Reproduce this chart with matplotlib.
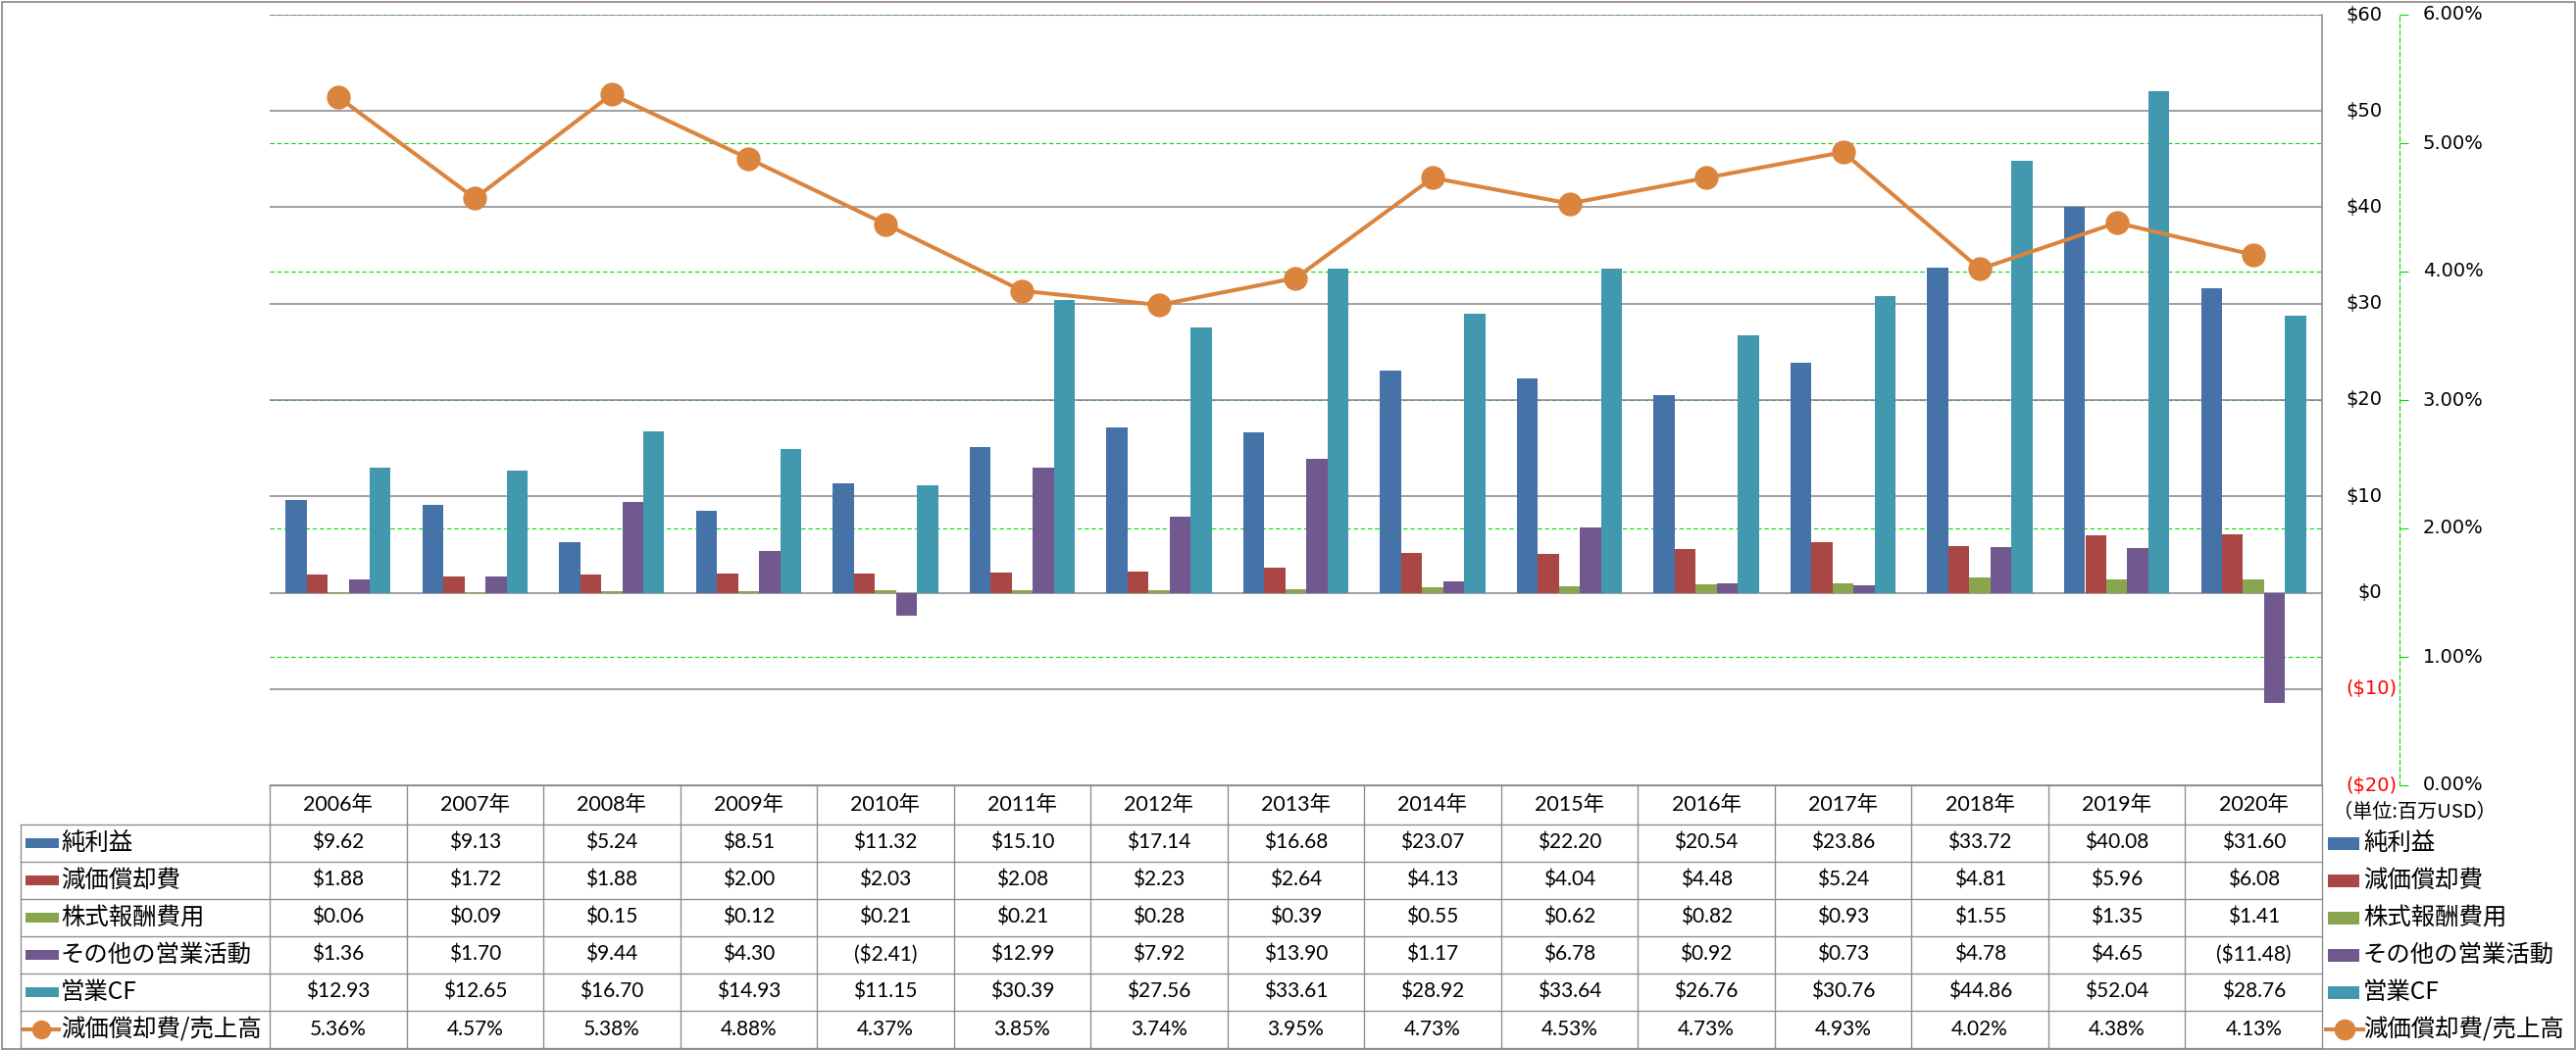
import matplotlib
matplotlib.use("Agg")
import matplotlib.pyplot as plt
from matplotlib.patches import Rectangle
from matplotlib.lines import Line2D
import numpy as np

# ---------------- data ----------------
years = ["2006年", "2007年", "2008年", "2009年", "2010年", "2011年", "2012年", "2013年",
         "2014年", "2015年", "2016年", "2017年", "2018年", "2019年", "2020年"]
series_names = ["純利益", "減価償却費", "株式報酬費用", "その他の営業活動", "営業CF"]
line_name = "減価償却費/売上高"
net_income = [9.62, 9.13, 5.24, 8.51, 11.32, 15.10, 17.14, 16.68, 23.07, 22.20, 20.54, 23.86, 33.72, 40.08, 31.60]
depreciation = [1.88, 1.72, 1.88, 2.00, 2.03, 2.08, 2.23, 2.64, 4.13, 4.04, 4.48, 5.24, 4.81, 5.96, 6.08]
stock_comp = [0.06, 0.09, 0.15, 0.12, 0.21, 0.21, 0.28, 0.39, 0.55, 0.62, 0.82, 0.93, 1.55, 1.35, 1.41]
other_ops = [1.36, 1.70, 9.44, 4.30, -2.41, 12.99, 7.92, 13.90, 1.17, 6.78, 0.92, 0.73, 4.78, 4.65, -11.48]
operating_cf = [12.93, 12.65, 16.70, 14.93, 11.15, 30.39, 27.56, 33.61, 28.92, 33.64, 26.76, 30.76, 44.86, 52.04, 28.76]
dep_ratio = [5.36, 4.57, 5.38, 4.88, 4.37, 3.85, 3.74, 3.95, 4.73, 4.53, 4.73, 4.93, 4.02, 4.38, 4.13]
usd_ticks = [-20, -10, 0, 10, 20, 30, 40, 50, 60]
pct_ticks = [0, 1, 2, 3, 4, 5, 6]
unit_label = "（単位:百万USD）"

# ---------------- style ----------------
colors = ["#4572A7", "#AA4643", "#89A54E", "#71588F", "#4198AF"]
line_color = "#DB843D"
grid_gray = "#868686"
green = "#00DD00"
W, H, DPI = 2627, 1071, 100
PX = 72.0 / DPI  # points per pixel

CJK = ["Noto Sans CJK JP", "DejaVu Sans"]
NUM = ["Lato", "Noto Sans CJK JP", "DejaVu Sans"]

fig = plt.figure(figsize=(W / DPI, H / DPI), dpi=DPI, facecolor="white")

# overlay axes in pixel coordinates (for table, labels + border)
ov = fig.add_axes([0, 0, 1, 1])
ov.set_xlim(0, W)
ov.set_ylim(H, 0)
ov.set_axis_off()

PL, PR, PT, PB = 275, 2368, 15, 801
rect = [PL / W, 1 - PB / H, (PR - PL) / W, (PB - PT) / H]

# green percent gridlines (behind bars)
axg = fig.add_axes(rect, facecolor="none")
axg.set_ylim(0, 6)
axg.set_xlim(-0.5, len(years) - 0.5)
axg.set_yticks(pct_ticks)
axg.set_xticks([])
axg.tick_params(left=False, labelleft=False)
for s in axg.spines.values():
    s.set_visible(False)
axg.grid(axis="y", color=green, lw=0.8, linestyle=(0, (4, 2.5)))

# bars
ax = fig.add_axes(rect, facecolor="none")
x = np.arange(len(years))
n = len(series_names)
bw = 1.0 / (n + 1.5)
all_series = [net_income, depreciation, stock_comp, other_ops, operating_cf]
for i, (vals, c) in enumerate(zip(all_series, colors)):
    ax.bar(x + (i - (n - 1) / 2) * bw, vals, width=bw, color=c, zorder=2)
ax.set_xlim(-0.5, len(years) - 0.5)
ax.set_ylim(-20, 60)
ax.set_xticks([])
ax.set_axisbelow(True)
ax.grid(axis="y", color=grid_gray, lw=1.1)
for k in ["top", "left", "bottom"]:
    ax.spines[k].set_visible(False)
ax.spines["right"].set_color(grid_gray)
ax.spines["right"].set_linewidth(1.1)

# line on secondary axis
ax2 = ax.twinx()
ax2.set_ylim(0, 6)
ax2.plot(x, dep_ratio, color=line_color, lw=2.9, marker="o", ms=16.5,
         mfc=line_color, mec=line_color, solid_joinstyle="round", zorder=5)
ax2.set_yticks(pct_ticks)
for k in ["top", "left", "bottom"]:
    ax2.spines[k].set_visible(False)
ax2.spines["right"].set_position(("outward", (2447 - PR) * PX))
ax2.spines["right"].set_color(green)
ax2.spines["right"].set_linewidth(0.8)
ax2.spines["right"].set_linestyle((0, (4, 2.5)))
ax2.tick_params(axis="y", direction="out", length=9 * PX, width=0.8, color=green,
                labelright=False, labelleft=False)

# primary axis: ticks set on the scale, labels drawn at the pixel column of the reference
ax.set_yticks(usd_ticks)
ax.tick_params(axis="y", left=False, right=False, labelleft=False, labelright=False)


def usd_fmt(v):
    return f"${v}" if v >= 0 else f"(${-v})"


for v in usd_ticks:
    ypix = H - ax.transData.transform((0, v))[1]
    if v >= 0:
        ov.text(2429, ypix, usd_fmt(v), ha="right", va="center", fontsize=14,
                family="DejaVu Sans", color="black")
    else:
        ov.text(2444, ypix, usd_fmt(v), ha="right", va="center", fontsize=14,
                family="DejaVu Sans", color="#FF0000")

for p in pct_ticks:
    ypix = H - ax2.transData.transform((0, p))[1]
    ov.text(2471, ypix, f"{p:.2f}%", ha="left", va="center", fontsize=14,
            family="DejaVu Sans", color="black")

# ---------------- data table ----------------
tcol = "#8C8C8C"
tlw = 0.95
ncol = len(years)
colw = (PR - PL) / ncol
row_edges = [801, 841, 879, 917, 955, 993, 1031, 1069]
TL = 21

# horizontal lines
ov.plot([PL, PR], [row_edges[0], row_edges[0]], color=tcol, lw=tlw)
for yy in row_edges[1:]:
    ov.plot([TL, PR], [yy, yy], color=tcol, lw=tlw)
# vertical lines
ov.plot([TL, TL], [row_edges[1], row_edges[-1]], color=tcol, lw=tlw)
for j in range(ncol + 1):
    xx = PL + j * colw
    ov.plot([xx, xx], [row_edges[0], row_edges[-1]], color=tcol, lw=tlw)


def money(v):
    return f"${v:.2f}" if v >= 0 else f"(${-v:.2f})"


# header
hy = (row_edges[0] + row_edges[1]) / 2
for j, yr in enumerate(years):
    ov.text(PL + (j + 0.5) * colw, hy, yr, ha="center", va="center",
            fontsize=15.5, family=NUM)

row_vals = [[money(v) for v in s] for s in all_series] + [[f"{v:.2f}%" for v in dep_ratio]]
row_names = series_names + [line_name]
row_colors = colors + [line_color]
for r in range(len(row_names)):
    cy = (row_edges[r + 1] + row_edges[r + 2]) / 2
    for j in range(ncol):
        ov.text(PL + (j + 0.5) * colw, cy, row_vals[r][j], ha="center", va="center",
                fontsize=15, family=NUM)
    # legend keys (left in table, right outside)
    if r < len(series_names):
        ov.add_patch(Rectangle((26, cy - 5), 34, 10, color=row_colors[r], lw=0))
        ov.add_patch(Rectangle((2374, cy - 6.5), 32, 13, color=row_colors[r], lw=0))
    else:
        ov.add_line(Line2D([24, 60], [cy, cy], color=line_color, lw=2.9))
        ov.add_line(Line2D([42], [cy], marker="o", ms=13, color=line_color, lw=0))
        ov.add_line(Line2D([2372, 2410], [cy, cy], color=line_color, lw=2.9))
        ov.add_line(Line2D([2391], [cy], marker="o", ms=14.5, color=line_color, lw=0))
    ov.text(62, cy, row_names[r], ha="left", va="center", fontsize=17.6, family=CJK)
    ov.text(2410, cy, row_names[r], ha="left", va="center", fontsize=17.6, family=CJK)

ov.text(2462, 829, unit_label, ha="center", va="center", fontsize=14.5, family=CJK)

# figure border
ov.add_patch(Rectangle((1.5, 1.5), W - 3, H - 3, fill=False, edgecolor=grid_gray, lw=1.2))

fig.savefig("out.png", dpi=DPI, facecolor="white")
